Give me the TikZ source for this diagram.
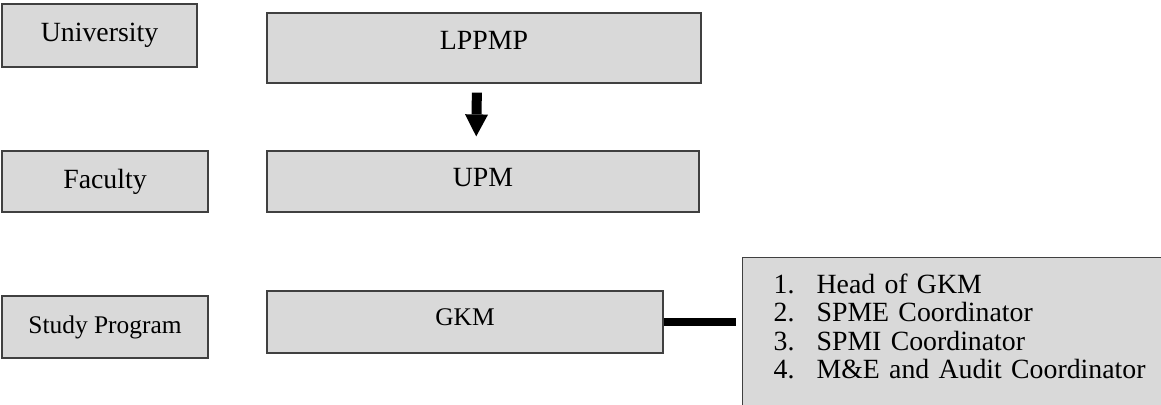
\documentclass[tikz,border=0pt]{standalone}
\usepackage{fontspec}
\setmainfont{Liberation Serif}
\usetikzlibrary{arrows.meta}
\definecolor{boxgray}{HTML}{D9D9D9}
\begin{document}
\begin{tikzpicture}[x=0.5pt,y=-0.5pt,
    box/.style={draw=black!75, line width=0.6pt, fill=boxgray, inner sep=0pt},
    big/.style={font=\fontsize{13.9}{16}\selectfont},
    small/.style={font=\fontsize{12.7}{15}\selectfont}]
  \useasboundingbox (0,0) rectangle (1161,405);
  % left column
  \node[box, big, minimum width=97.5pt, minimum height=31.5pt] (univ) at (99.5,35.5) {University};
  \node[box, big, minimum width=103pt, minimum height=30.5pt] (fac) at (105,181.5) {Faculty};
  \node[box, small, minimum width=103pt, minimum height=31pt] (study) at (105,327) {Study Program};
  % units
  \node[box, big, minimum width=217pt, minimum height=35pt, text depth=7.2pt] (lppmp) at (484,48) {LPPMP};
  \node[box, big, minimum width=216pt, minimum height=30.5pt, text depth=3.7pt] (upm) at (483,181.5) {UPM};
  \node[box, small, minimum width=198pt, minimum height=31pt, text depth=5.4pt] (gkm) at (465,322) {GKM};
  \node[box, anchor=north west, text width=200pt, align=left, inner xsep=15.5pt, inner ysep=0pt,
        text height=18pt, text depth=70pt, font=\fontsize{13.9}{14.15}\selectfont] (roles) at (742,257)
    {\makebox[21.5pt][l]{1.}Head of GKM\\
     \makebox[21.5pt][l]{2.}SPME Coordinator\\
     \makebox[21.5pt][l]{3.}SPMI Coordinator\\
     \makebox[21.5pt][l]{4.}M\&E and Audit Coordinator};
  % connectors
  \draw[line width=5pt, -{Triangle[width=11.5pt,length=11pt,line width=0pt]},
        shorten <=4.5pt, shorten >=7pt] ([xshift=-3.5pt]lppmp.south) -- ([xshift=-3.5pt]upm.north);
  \draw[line width=4pt, shorten >=3pt] (gkm.east) -- (gkm.east -| roles.west);
\end{tikzpicture}
\end{document}
